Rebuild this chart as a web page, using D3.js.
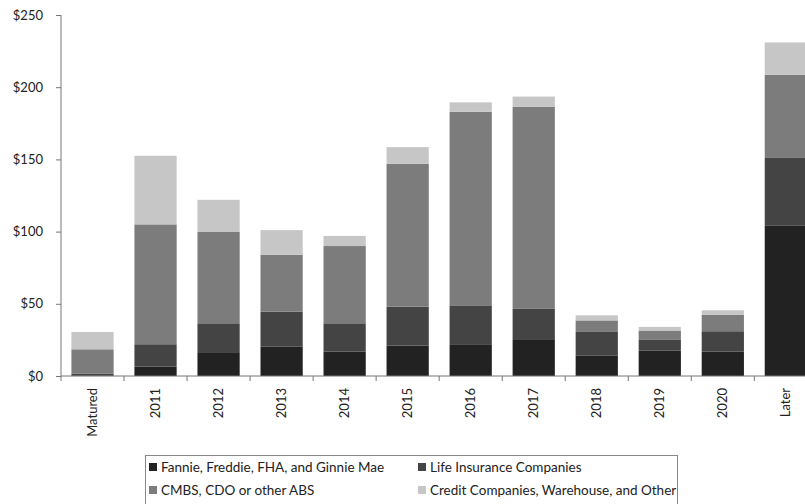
<!DOCTYPE html>
<html>
<head>
<meta charset="utf-8">
<script src="https://cdn.jsdelivr.net/npm/d3@7"></script>
<style>
  html, body { margin: 0; padding: 0; background: #fff; }
  svg { display: block; }
  text { font-family: Lato, "Open Sans", sans-serif; fill: #222; }
</style>
</head>
<body>
<svg id="chart" width="805" height="504"></svg>
<script>
const categories = ["Matured","2011","2012","2013","2014","2015","2016","2017","2018","2019","2020","Later"];
const seriesNames = ["Fannie, Freddie, FHA, and Ginnie Mae","Life Insurance Companies","CMBS, CDO or other ABS","Credit Companies, Warehouse, and Other"];
const fannie = [0.5, 6.5, 16.5, 20.5, 17, 21, 22, 25.5, 14, 17.5, 17, 104];
const life   = [1, 15.5, 20, 24, 19.5, 27, 26.5, 21, 16.5, 7.5, 14, 47];
const cmbs   = [17, 83, 63.5, 39.5, 53.5, 99, 134.5, 140, 8, 6.5, 11.5, 57.5];
const credit = [12, 47.5, 22, 17, 7, 11.5, 6.5, 7, 3.5, 2.5, 3, 22.5];
const yTicks = [0, 50, 100, 150, 200, 250];
const colors = ["#222222", "#444444", "#7c7c7c", "#c6c6c6"];

const svg = d3.select("#chart");
const seriesVals = [fannie, life, cmbs, credit];
const rows = categories.map((c, i) => {
  const o = { cat: c };
  seriesNames.forEach((s, j) => o[s] = seriesVals[j][i]);
  return o;
});
const stack = d3.stack().keys(seriesNames)(rows);

const x = d3.scaleBand().domain(categories).range([61, 61 + 12 * 63.03]).paddingInner(0.33).paddingOuter(0.165);
const y = d3.scaleLinear().domain([0, 250]).range([376, 15]);

// bars
svg.append("g").selectAll("g").data(stack).join("g")
  .attr("fill", (d, i) => colors[i])
  .selectAll("rect").data(d => d).join("rect")
  .attr("x", d => x(d.data.cat))
  .attr("width", x.bandwidth())
  .attr("y", d => y(d[1]))
  .attr("height", d => y(d[0]) - y(d[1]));

// y axis
const yAxis = svg.append("g").attr("transform", "translate(61,0)")
  .call(d3.axisLeft(y).tickValues(yTicks).tickSize(5).tickPadding(13).tickFormat(d => "$" + d));
yAxis.select(".domain").attr("stroke", "#777").attr("d", "M0,15V376");
yAxis.selectAll(".tick line").attr("stroke", "#777");
yAxis.selectAll("text").style("font-size", "13px").attr("fill", "#222");

// x axis
const xAxis = svg.append("g").attr("transform", "translate(0,376)");
xAxis.append("line").attr("x1", 61).attr("x2", 805).attr("y1", 0).attr("y2", 0).attr("stroke", "#777");
const step = x.step();
xAxis.selectAll("line.tk").data(d3.range(13)).join("line").attr("class", "tk")
  .attr("x1", i => 61 + i * step).attr("x2", i => 61 + i * step)
  .attr("y1", 0).attr("y2", 5).attr("stroke", "#777");
xAxis.selectAll("text").data(categories).join("text")
  .attr("transform", d => `translate(${x(d) + x.bandwidth() / 2},12) rotate(-90)`)
  .attr("text-anchor", "end").attr("dy", "0.35em")
  .style("font-size", "13px").text(d => d);

// legend
const lg = svg.append("g");
lg.append("rect").attr("x", 145.5).attr("y", 455.5).attr("width", 532).attr("height", 50)
  .attr("fill", "none").attr("stroke", "#888");
const pos = [[149, 467], [418, 467], [149, 490], [418, 490]];
seriesNames.forEach((s, i) => {
  lg.append("rect").attr("x", pos[i][0]).attr("y", pos[i][1] - 4).attr("width", 8).attr("height", 8).attr("fill", colors[i]);
  lg.append("text").attr("x", pos[i][0] + 12).attr("y", pos[i][1]).attr("dy", "0.35em")
    .style("font-size", "13.5px").text(s);
});
</script>
</body>
</html>
